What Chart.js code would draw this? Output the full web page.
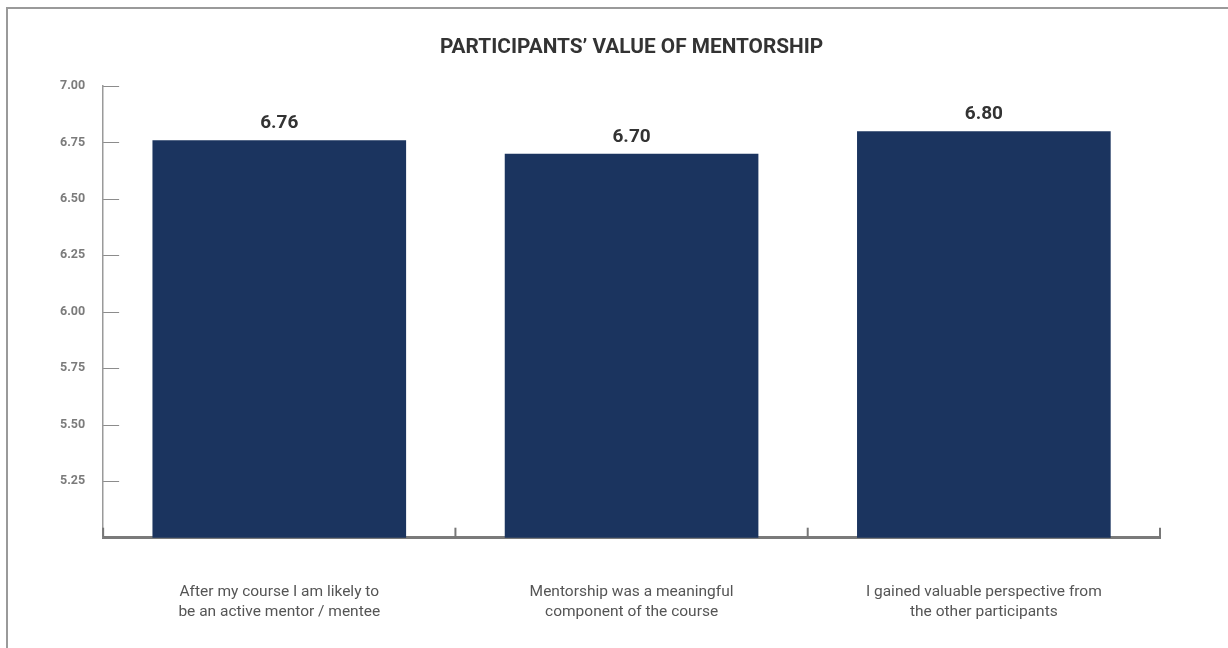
<!DOCTYPE html>
<html>
<head>
<meta charset="utf-8">
<script src="https://cdn.jsdelivr.net/npm/chart.js@4"></script>
<style>
  html, body { margin: 0; padding: 0; background: #fff; }
  #wrap { position: relative; width: 1228px; height: 648px; overflow: hidden; }
  #frame {
    position: absolute; left: 6px; top: 7px; right: -10px; bottom: -10px;
    border-top: 2px solid #9a9a9a; border-left: 2px solid #9a9a9a;
  }
  canvas { position: absolute; left: 0; top: 0; }
</style>
</head>
<body>
<div id="wrap">
  <div id="frame"></div>
  <canvas id="chart" width="1228" height="648"></canvas>
</div>
<script>
const categories = [
  ["After my course I am likely to", "be an active mentor / mentee"],
  ["Mentorship was a meaningful", "component of the course"],
  ["I gained valuable perspective from", "the other participants"],
]
const scores = [6.76, 6.70, 6.80]
const yTicks = [5.00, 5.25, 5.50, 5.75, 6.00, 6.25, 6.50, 6.75, 7.00]

const FONT = "Roboto, 'DejaVu Sans', sans-serif"

// value labels above each bar
const barLabels = {
  id: "barLabels",
  afterDatasetsDraw(chart) {
    const {ctx} = chart
    const meta = chart.getDatasetMeta(0)
    ctx.save()
    ctx.font = `bold 19px ${FONT}`
    ctx.fillStyle = "#333333"
    ctx.textAlign = "center"
    ctx.textBaseline = "bottom"
    meta.data.forEach((bar, i) => {
      ctx.fillText(scores[i].toFixed(2), bar.x, bar.y - 7)
    })
    ctx.restore()
  },
}

// tick marks drawn inward from the axes
const innerTicks = {
  id: "innerTicks",
  afterDraw(chart) {
    const {ctx, chartArea, scales} = chart
    ctx.save()
    ctx.strokeStyle = "#8c8c8c"
    ctx.lineWidth = 1
    for (const v of yTicks) {
      if (v === 5) continue
      const y = Math.round(scales.y.getPixelForValue(v)) + 0.5
      ctx.beginPath()
      ctx.moveTo(chartArea.left, y)
      ctx.lineTo(chartArea.left + 16, y)
      ctx.stroke()
    }
    ctx.strokeStyle = "#777777"
    ctx.lineWidth = 2
    const n = categories.length
    for (let i = 0; i <= n; i++) {
      const x = chartArea.left + (chartArea.right - chartArea.left) * i / n
      ctx.beginPath()
      ctx.moveTo(x, chartArea.bottom)
      ctx.lineTo(x, chartArea.bottom - 10)
      ctx.stroke()
    }
    ctx.restore()
  },
}

new Chart(document.getElementById("chart").getContext("2d"), {
  type: "bar",
  data: {
    labels: categories,
    datasets: [
      {
        data: scores,
        backgroundColor: "#1b345f",
        barPercentage: 0.72,
        categoryPercentage: 1,
      },
    ],
  },
  options: {
    responsive: false,
    animation: false,
    layout: {padding: {left: 50, right: 68, top: 0, bottom: -10}},
    plugins: {
      legend: {display: false},
      tooltip: {enabled: false},
      title: {
        display: true,
        text: "PARTICIPANTS’ VALUE OF MENTORSHIP",
        fullSize: false,
        color: "#333333",
        font: {family: FONT, size: 20.8, weight: "bold"},
        padding: {top: 35, bottom: 26},
      },
    },
    scales: {
      x: {
        grid: {display: false, offset: true},
        border: {display: true, color: "#7a7a7a", width: 3},
        ticks: {
          color: "#555555",
          font: {family: FONT, size: 15.5, lineHeight: 1.3},
          padding: 36,
        },
      },
      y: {
        min: 5,
        max: 7,
        grid: {display: false},
        border: {display: true, color: "#9a9a9a", width: 1.5},
        afterBuildTicks: (axis) => {
          axis.ticks = yTicks.map((value) => ({value}))
        },
        ticks: {
          color: "#7b7b7b",
          font: {family: FONT, size: 12.5, weight: "bold"},
          padding: 10,
          callback: (v) => (v === 5 ? "" : Number(v).toFixed(2)),
        },
      },
    },
  },
  plugins: [barLabels, innerTicks],
})
</script>
</body>
</html>
